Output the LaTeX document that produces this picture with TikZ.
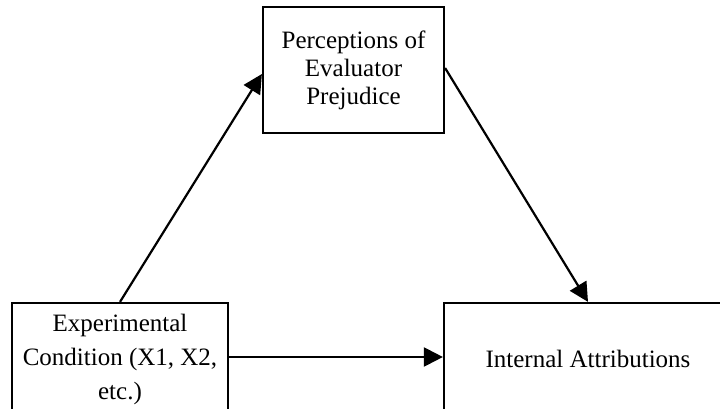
\documentclass[tikz,border=0pt]{standalone}
\usepackage{fontspec}
\setmainfont{Liberation Serif}
\usetikzlibrary{arrows.meta}
\begin{document}
\begin{tikzpicture}[x=1pt,y=-1pt,
  box/.style={draw, line width=2.2pt, inner sep=0pt, align=center,
    font=\fontsize{25}{28}\selectfont},
  link/.style={line width=2.2pt, -{Triangle[length=19pt,width=19pt]}}]
\useasboundingbox (0,0) rectangle (720,409);
\clip (0,0) rectangle (720,409);
\fill[white] (0,0) rectangle (720,409);
% mediator
\node[box, minimum width=181pt, minimum height=126pt] (prej) at (353.5,70)
  {Perceptions of\\Evaluator\\Prejudice};
% predictor
\node[box, minimum width=216pt, minimum height=112pt,
  font=\fontsize{25}{34}\selectfont] (cond) at (120,359)
  {Experimental\\Condition (X1, X2,\\etc.)};
% outcome
\node[box, minimum width=288pt, minimum height=112pt] (attr) at (588,359)
  {Internal Attributions};
% paths
\draw[link] (cond.north) -- ([yshift=-4pt]prej.west);
\draw[link] ([yshift=2pt]prej.east) -- (attr.north);
\draw[link] ([yshift=2pt]cond.east) -- ([yshift=2pt]attr.west);
\end{tikzpicture}
\end{document}
